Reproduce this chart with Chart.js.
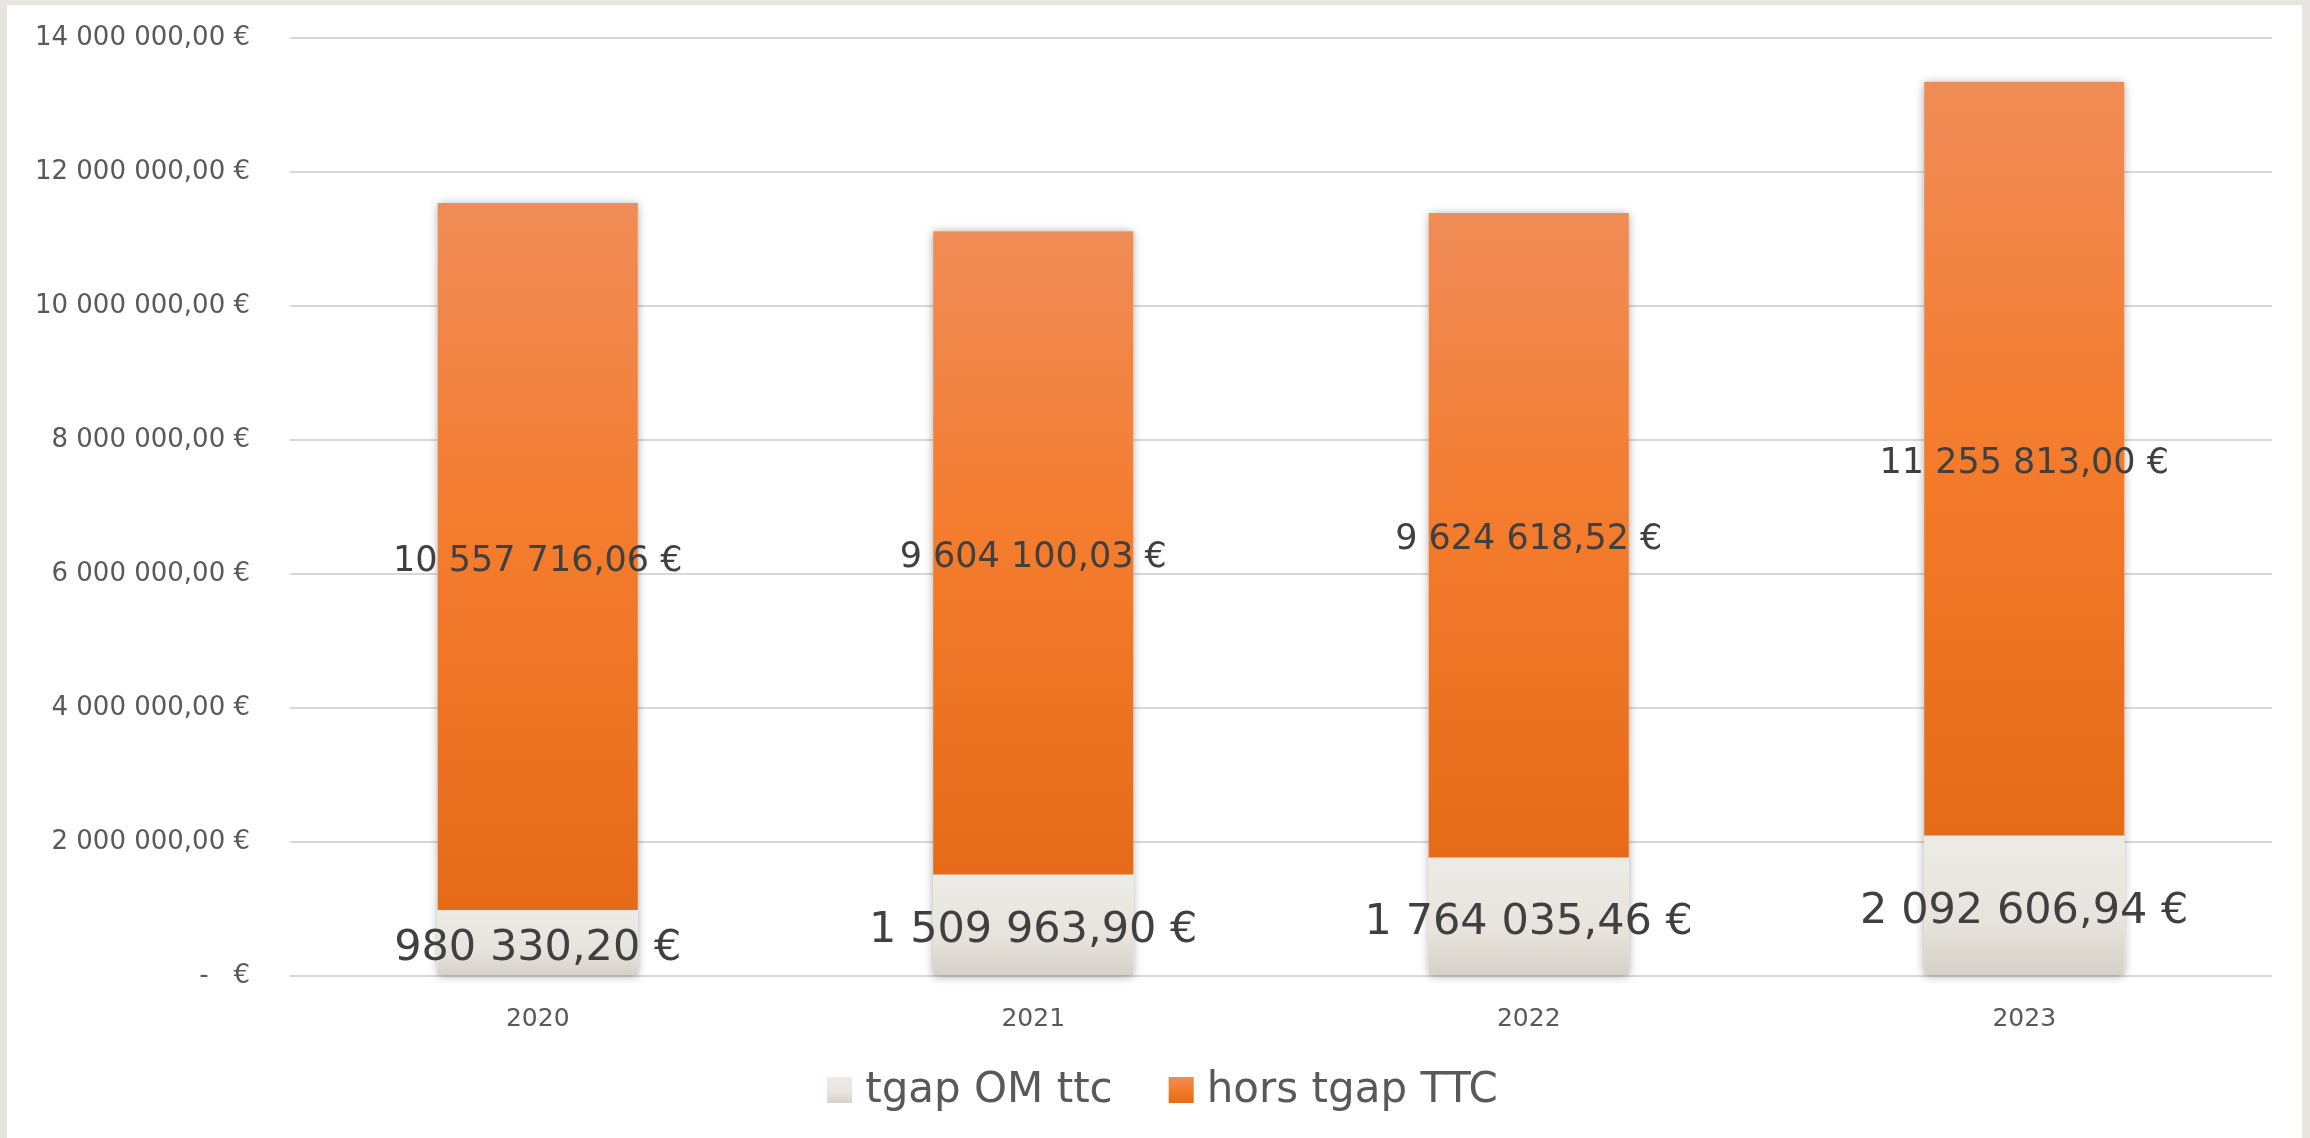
<!DOCTYPE html>
<html>
<head>
<meta charset="utf-8">
<script src="https://cdn.jsdelivr.net/npm/chart.js@4.4.1/dist/chart.umd.min.js"></script>
<style>
  html, body { margin: 0; padding: 0; background: #E8E5DE; width: 2310px; height: 1138px; overflow: hidden; }
  #wrap { position: absolute; left: 7px; top: 5px; width: 2295px; height: 1133px; background: #FFFFFF; }
  canvas { display: block; }
</style>
</head>
<body>
<div id="wrap"><canvas id="c"></canvas></div>
<script>
const categories = ['2020', '2021', '2022', '2023'];
const tgapValues = [980330.20, 1509963.90, 1764035.46, 2092606.94];
const horsValues = [10557716.06, 9604100.03, 9624618.52, 11255813.00];
const seriesNames = ['tgap OM ttc', 'hors tgap TTC'];
const yMax = 14000000;
const yStep = 2000000;

function groupThousands(intStr) {
  return intStr.replace(/\B(?=(\d{3})+(?!\d))/g, ' ');
}
function euro(v) {
  const fixed = v.toFixed(2).split('.');
  return groupThousands(fixed[0]) + ',' + fixed[1] + ' €';
}

const beigeStops = [[0, '#EDEBE5'], [0.6, '#E7E4DD'], [1, '#D5D1C8']];
const orangeStops = [[0, '#F08C57'], [0.5, '#F47B2C'], [1, '#E56B18']];
const FONT = '"DejaVu Sans"';

function makeGradient(c, y0, y1, stops) {
  const g = c.createLinearGradient(0, y0, 0, y1);
  stops.forEach(s => g.addColorStop(s[0], s[1]));
  return g;
}

function segGradient(ctx, stops, fallback) {
  const chart = ctx.chart;
  const ys = chart.scales && chart.scales.y;
  if (ctx.type !== 'data' || !ys || !chart.chartArea) return fallback;
  const i = ctx.dataIndex, di = ctx.datasetIndex;
  let base = 0;
  for (let d = 0; d < di; d++) base += chart.data.datasets[d].data[i];
  const top = base + chart.data.datasets[di].data[i];
  const y0 = ys.getPixelForValue(top), y1 = ys.getPixelForValue(base);
  if (!isFinite(y0) || !isFinite(y1) || y0 === y1) return fallback;
  return makeGradient(chart.ctx, y0, y1, stops);
}

const shadowPlugin = {
  id: 'stackShadow',
  beforeDatasetsDraw(chart) {
    const m0 = chart.getDatasetMeta(0), m1 = chart.getDatasetMeta(1);
    const c = chart.ctx;
    c.save();
    c.shadowColor = 'rgba(0,0,0,0.38)';
    c.shadowBlur = 9;
    c.shadowOffsetX = 0;
    c.shadowOffsetY = 1;
    c.fillStyle = '#FFFFFF';
    m1.data.forEach((el, i) => {
      const b = m0.data[i];
      const w = el.width;
      c.fillRect(el.x - w / 2, el.y, w, b.base - el.y);
    });
    c.restore();
  }
};

const labelPlugin = {
  id: 'valueLabels',
  afterDatasetsDraw(chart) {
    const c = chart.ctx;
    c.save();
    c.textAlign = 'center';
    c.textBaseline = 'middle';
    c.fillStyle = '#404040';
    chart.data.datasets.forEach((ds, di) => {
      const meta = chart.getDatasetMeta(di);
      c.font = (di === 0 ? '43px ' : '35px ') + FONT;
      meta.data.forEach((el, i) => {
        const y = (el.y + el.base) / 2;
        c.fillText(euro(ds.data[i]), el.x, y + (di === 0 ? 6 : 5));
      });
    });
    c.restore();
  }
};

const legendPlugin = {
  id: 'customLegend',
  afterDraw(chart) {
    const c = chart.ctx;
    c.save();
    c.font = '42px ' + FONT;
    c.textBaseline = 'middle';
    c.textAlign = 'left';
    const boxW = 25, boxH = 26, gapText = 13, gapItem = 56;
    const stopsList = [beigeStops, orangeStops];
    const widths = chart.data.datasets.map(ds => boxW + gapText + c.measureText(ds.label).width);
    const total = widths.reduce((a, b) => a + b, 0) + gapItem * (widths.length - 1);
    const cy = chart.chartArea.bottom + 114;
    let x = chart.width / 2 + 8 - total / 2;
    chart.data.datasets.forEach((ds, di) => {
      c.fillStyle = makeGradient(c, cy - boxH / 2, cy + boxH / 2, stopsList[di]);
      c.fillRect(x, cy - boxH / 2, boxW, boxH);
      c.fillStyle = '#595959';
      c.fillText(ds.label, x + boxW + gapText, cy + 1);
      x += widths[di] + gapItem;
    });
    c.restore();
  }
};

Chart.defaults.font.family = FONT;
Chart.defaults.color = '#595959';

new Chart(document.getElementById('c'), {
  type: 'bar',
  data: {
    labels: categories,
    datasets: [
      {
        label: seriesNames[0],
        data: tgapValues,
        backgroundColor: (ctx) => segGradient(ctx, beigeStops, '#E5E2DB'),
        borderWidth: 0,
        categoryPercentage: 1,
        barPercentage: 0.404
      },
      {
        label: seriesNames[1],
        data: horsValues,
        backgroundColor: (ctx) => segGradient(ctx, orangeStops, '#EF7B31'),
        borderWidth: 0,
        categoryPercentage: 1,
        barPercentage: 0.404
      }
    ]
  },
  options: {
    responsive: true,
    maintainAspectRatio: false,
    animation: false,
    layout: { padding: { left: 0, right: 30, top: 33, bottom: 100 } },
    scales: {
      x: {
        stacked: true,
        grid: { display: false, drawTicks: false },
        border: { display: false },
        ticks: { font: { size: 25 }, color: '#595959', padding: 28 },
        afterFit(s) { s.height = 62; s.paddingTop = 0; s.paddingBottom = 0; }
      },
      y: {
        stacked: true,
        min: 0,
        max: yMax,
        ticks: {
          stepSize: yStep,
          font: { size: 26 },
          color: '#595959',
          padding: 40,
          callback: (v) => v === 0 ? '-   €' : euro(v)
        },
        grid: { color: '#D9D9D9', lineWidth: 2, drawTicks: false },
        border: { display: false },
        afterFit(s) { s.width = 283; s.paddingTop = 0; s.paddingBottom = 0; }
      }
    },
    plugins: {
      legend: { display: false },
      tooltip: { enabled: false }
    }
  },
  plugins: [shadowPlugin, labelPlugin, legendPlugin]
});
</script>
</body>
</html>
